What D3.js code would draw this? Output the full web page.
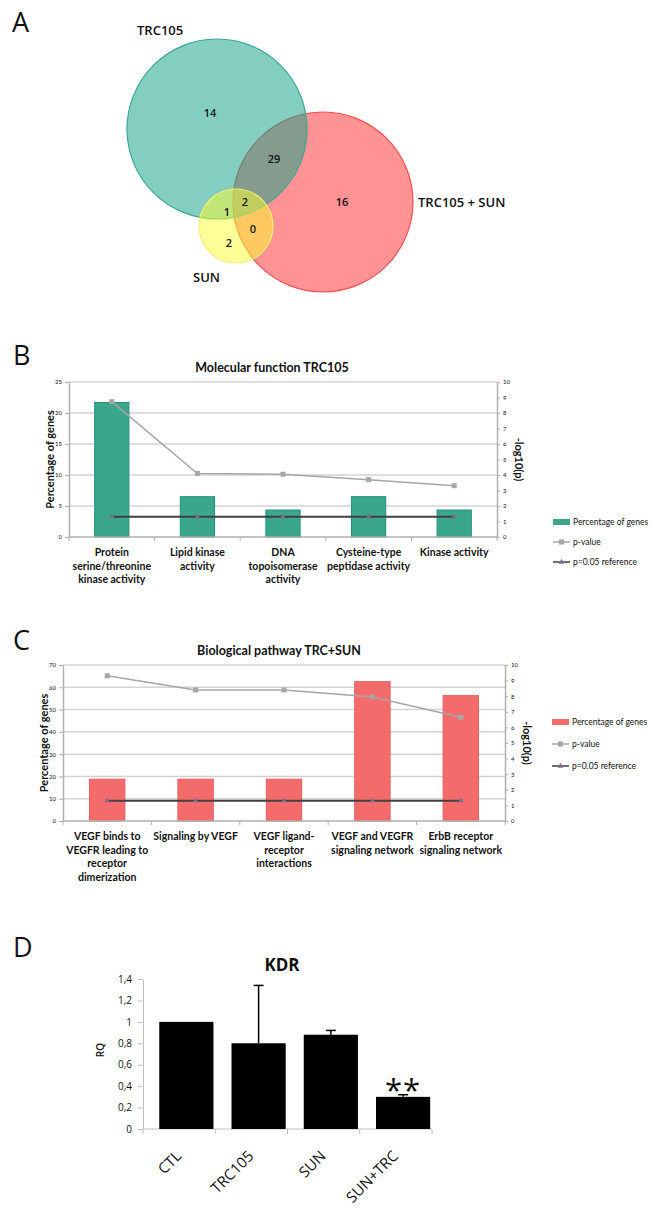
<!DOCTYPE html>
<html lang="en">
<head>
<meta charset="UTF-8">
<title>TRC105 / SUN gene sets and KDR</title>
<script src="https://d3js.org/d3.v7.min.js"></script>
<style>
    body { margin: 0; background: #fff; }
    svg { display: block; }
    .letter { font-family: "Open Sans", sans-serif; font-size: 27px; fill: #111; }
    .venn-label { font-family: "Open Sans", sans-serif; font-size: 13px; font-weight: 600; fill: #111; }
    .venn-num { font-family: "Open Sans", sans-serif; font-size: 11px; font-weight: 600; fill: #111; }
    .go text { font-family: Lato, sans-serif; fill: #111; }
    .go .tick text { font-size: 6px; }
    .go .title { font-size: 12.5px; font-weight: bold; }
    .go .ylab { font-size: 11px; font-weight: bold; }
    .go .cat { font-size: 10.5px; font-weight: bold; }
    .go .legend { font-size: 8.5px; }
    .kdr text { font-family: "Open Sans", sans-serif; fill: #111; }
</style>
</head>
<body>
<svg width="650" height="1219"></svg>
<script>
// A: Venn diagram counts
const vennSets = ["TRC105", "TRC105 + SUN", "SUN"];
const vennCounts = [14, 29, 2, 1, 2, 0, 16]; // TRC only, TRC&TRC+SUN, all, TRC&SUN, SUN only, SUN&TRC+SUN, TRC+SUN only

// B: molecular function TRC105
const mfCategories = [
    ["Protein", "serine/threonine", "kinase activity"],
    ["Lipid kinase", "activity"],
    ["DNA", "topoisomerase", "activity"],
    ["Cysteine-type", "peptidase activity"],
    ["Kinase activity"]
];
const mfPercent = [21.7, 6.5, 4.35, 6.5, 4.35];
const mfLogP = [8.73, 4.1, 4.05, 3.7, 3.31];

// C: biological pathway TRC+SUN
const bpCategories = [
    ["VEGF binds to", "VEGFR leading to", "receptor", "dimerization"],
    ["Signaling by VEGF"],
    ["VEGF ligand-", "receptor", "interactions"],
    ["VEGF and VEGFR", "signaling network"],
    ["ErbB receptor", "signaling network"]
];
const bpPercent = [18.75, 18.75, 18.75, 62.5, 56.25];
const bpLogP = [9.31, 8.4, 8.4, 7.95, 6.65];

const refLogP = 1.3; // -log10(0.05)
const legendNames = ["Percentage of genes", "p-value", "p=0.05 reference"];

// D: KDR expression
const kdrGroups = ["CTL", "TRC105", "SUN", "SUN+TRC"];
const kdrRQ = [1, 0.8, 0.88, 0.3];
const kdrErr = [0, 0.54, 0.04, 0.02];
const kdrTicks = [0, 0.2, 0.4, 0.6, 0.8, 1, 1.2, 1.4];

const svg = d3.select("svg");

// panel letters
svg.selectAll(".letter")
    .data([["A", 12, 32], ["B", 13, 365], ["C", 13, 650], ["D", 13, 957]])
    .join("text")
    .attr("class", "letter")
    .attr("x", d => d[1]).attr("y", d => d[2])
    .text(d => d[0]);

// ---------- A: Venn ----------
const venn = svg.append("g");
const circles = [
    { cx: 323, cy: 202, r: 90, fill: "#ff5a5a", op: 0.66, stroke: "#f05050" },
    { cx: 217, cy: 129, r: 90, fill: "#1aa58a", op: 0.54, stroke: "#3aa796" },
    { cx: 236, cy: 226, r: 37, fill: "#ffff30", op: 0.5, stroke: "#f4f070" }
];
venn.selectAll("circle").data(circles).join("circle")
    .attr("cx", d => d.cx).attr("cy", d => d.cy).attr("r", d => d.r)
    .attr("fill", d => d.fill).attr("fill-opacity", d => d.op)
    .attr("stroke", d => d.stroke).attr("stroke-width", 1.2);

const numPos = [[210, 113], [274, 159], [245, 202], [227, 212], [229, 243], [253, 229], [342, 202]];
venn.selectAll(".venn-num").data(vennCounts).join("text")
    .attr("class", "venn-num")
    .attr("x", (d, i) => numPos[i][0]).attr("y", (d, i) => numPos[i][1])
    .attr("text-anchor", "middle").attr("dy", "0.35em")
    .text(d => d);

const setPos = [[137, 35], [418, 207], [193, 282]];
venn.selectAll(".venn-label").data(vennSets).join("text")
    .attr("class", "venn-label")
    .attr("x", (d, i) => setPos[i][0]).attr("y", (d, i) => setPos[i][1])
    .text(d => d);

// ---------- B / C: combo charts ----------
function goChart(cfg) {
    const g = svg.append("g").attr("class", "go");
    const n = cfg.labels.length;
    const x = d3.scaleBand().domain(d3.range(n)).range([cfg.x0, cfg.x1])
        .paddingInner(0.6).paddingOuter(0.3);
    const yL = d3.scaleLinear().domain([0, cfg.leftMax]).range([cfg.yBottom, cfg.yTop]);
    const yR = d3.scaleLinear().domain([0, 10]).range([cfg.yBottom, cfg.yTop]);
    const leftTicks = d3.range(0, cfg.leftMax + 0.001, cfg.leftStep);
    const cx = i => x(i) + x.bandwidth() / 2;

    // gridlines
    g.append("g").selectAll("line").data(leftTicks.slice(1)).join("line")
        .attr("x1", cfg.x0).attr("x2", cfg.x1)
        .attr("y1", d => yL(d)).attr("y2", d => yL(d))
        .attr("stroke", "#d3d3d3").attr("stroke-width", 1.5);

    // bars
    g.append("g").selectAll("rect").data(cfg.percent).join("rect")
        .attr("x", (d, i) => x(i)).attr("width", x.bandwidth())
        .attr("y", d => yL(d)).attr("height", d => cfg.yBottom - yL(d))
        .attr("fill", cfg.color).attr("stroke", cfg.stroke).attr("stroke-width", 1);

    // axes
    const axL = g.append("g").attr("transform", `translate(${cfg.x0},0)`)
        .call(d3.axisLeft(yL).tickValues(leftTicks).tickSize(4).tickSizeOuter(0).tickPadding(3));
    const axR = g.append("g").attr("transform", `translate(${cfg.x1},0)`)
        .call(d3.axisRight(yR).ticks(10).tickSize(3).tickSizeOuter(0).tickPadding(3));
    [axL, axR].forEach(a => {
        a.select(".domain").attr("stroke", "#b0b0b0").attr("stroke-width", 1.5);
        a.selectAll(".tick line").attr("stroke", "#b0b0b0");
    });

    // category axis
    g.append("line").attr("x1", cfg.x0).attr("x2", cfg.x1)
        .attr("y1", cfg.yBottom).attr("y2", cfg.yBottom)
        .attr("stroke", "#b0b0b0").attr("stroke-width", 1.5);
    g.append("g").selectAll("line").data(d3.range(n + 1)).join("line")
        .attr("x1", i => cfg.x0 + x.step() * i).attr("x2", i => cfg.x0 + x.step() * i)
        .attr("y1", cfg.yBottom).attr("y2", cfg.yBottom + 4)
        .attr("stroke", "#b0b0b0");
    const cats = g.append("g").selectAll("text").data(cfg.labels).join("text")
        .attr("class", "cat").attr("text-anchor", "middle");
    cats.each(function(lines, i) {
        d3.select(this).selectAll("tspan").data(lines).join("tspan")
            .attr("x", cx(i)).attr("y", (l, j) => cfg.yBottom + 19 + j * 13.5)
            .text(l => l);
    });

    // p-value line
    const line = d3.line().x((d, i) => cx(i));
    g.append("path").datum(cfg.logP)
        .attr("d", line.y(d => yR(d)))
        .attr("fill", "none").attr("stroke", "#a6a6a6").attr("stroke-width", 1.5);
    g.append("g").selectAll("rect").data(cfg.logP).join("rect")
        .attr("x", (d, i) => cx(i) - 2.5).attr("y", d => yR(d) - 2.5)
        .attr("width", 5).attr("height", 5).attr("fill", "#a6a6a6");

    // reference line
    const ref = cfg.labels.map(() => refLogP);
    g.append("path").datum(ref)
        .attr("d", d3.line().x((d, i) => cx(i)).y(d => yR(d)))
        .attr("fill", "none").attr("stroke", "#404040").attr("stroke-width", 2);
    g.append("g").selectAll("path").data(ref).join("path")
        .attr("transform", (d, i) => `translate(${cx(i)},${yR(d)})`)
        .attr("d", d3.symbol(d3.symbolTriangle, 14))
        .attr("fill", "#7a6f8c");

    // title and axis labels
    g.append("text").attr("class", "title").attr("text-anchor", "middle")
        .attr("x", cfg.titleX).attr("y", cfg.titleY).text(cfg.title);
    g.append("text").attr("class", "ylab").attr("text-anchor", "middle")
        .attr("transform", `translate(${cfg.x0 - 15},${(cfg.yTop + cfg.yBottom) / 2}) rotate(-90)`)
        .text("Percentage of genes");
    g.append("text").attr("class", "ylab").attr("text-anchor", "middle")
        .attr("transform", `translate(${cfg.x1 + 18},${(cfg.yTop + cfg.yBottom) / 2}) rotate(90)`)
        .text("-log10(p)");

    // legend
    const lg = g.append("g").attr("transform", `translate(${cfg.legX},${cfg.legY})`);
    const rows = lg.selectAll("g").data(legendNames).join("g")
        .attr("transform", (d, i) => `translate(0,${i * cfg.legStep})`);
    rows.append("text").attr("class", "legend").attr("x", 20).attr("dy", "0.35em").text(d => d);
    rows.filter((d, i) => i === 0).append("rect")
        .attr("x", 0).attr("y", -3).attr("width", 17).attr("height", 6).attr("fill", cfg.color);
    rows.filter((d, i) => i > 0).append("line")
        .attr("x1", 0).attr("x2", 17)
        .attr("stroke", (d, i) => i === 0 ? "#a6a6a6" : "#404040").attr("stroke-width", 1.5);
    rows.filter((d, i) => i === 1).append("rect")
        .attr("x", 6).attr("y", -2.5).attr("width", 5).attr("height", 5).attr("fill", "#a6a6a6");
    rows.filter((d, i) => i === 2).append("path")
        .attr("transform", "translate(8.5,0)")
        .attr("d", d3.symbol(d3.symbolTriangle, 14)).attr("fill", "#7a6f8c");
}

goChart({
    labels: mfCategories, percent: mfPercent, logP: mfLogP,
    x0: 69, x1: 497, yTop: 382, yBottom: 537, leftMax: 25, leftStep: 5,
    color: "#3aa68c", stroke: "#1f9478",
    title: "Molecular function TRC105", titleX: 272, titleY: 372,
    legX: 553, legY: 522, legStep: 20
});

goChart({
    labels: bpCategories, percent: bpPercent, logP: bpLogP,
    x0: 63, x1: 505, yTop: 665, yBottom: 821, leftMax: 70, leftStep: 10,
    color: "#f46b6b", stroke: "#ee5a5a",
    title: "Biological pathway TRC+SUN", titleX: 279, titleY: 655,
    legX: 552, legY: 722, legStep: 22
});

// ---------- D: KDR ----------
const kd = svg.append("g").attr("class", "kdr");
const xD = d3.scaleBand().domain(kdrGroups).range([143, 432])
    .paddingInner(0.25).paddingOuter(0.125).align(0.9);
const yD = d3.scaleLinear().domain([0, 1.4]).range([1129, 979]);
const fmt = d => String(+d.toFixed(1)).replace(".", ",");
const mid = g => xD(g) + xD.bandwidth() / 2;

const ayD = kd.append("g").attr("transform", "translate(143,0)")
    .call(d3.axisLeft(yD).tickValues(kdrTicks).tickFormat(fmt).tickSize(5).tickSizeOuter(0).tickPadding(6));
ayD.select(".domain").attr("stroke", "#bfbfbf");
ayD.selectAll(".tick line").attr("stroke", "#bfbfbf");
ayD.selectAll(".tick text").attr("font-size", "10px");

kd.append("line").attr("x1", 143).attr("x2", 432).attr("y1", 1129).attr("y2", 1129)
    .attr("stroke", "#bfbfbf");
kd.append("g").selectAll("line").data(d3.range(kdrGroups.length + 1)).join("line")
    .attr("x1", i => 143 + xD.step() * i).attr("x2", i => 143 + xD.step() * i)
    .attr("y1", 1129).attr("y2", 1134).attr("stroke", "#bfbfbf");

kd.append("g").selectAll("rect").data(kdrRQ).join("rect")
    .attr("x", (d, i) => xD(kdrGroups[i])).attr("width", xD.bandwidth())
    .attr("y", d => yD(d)).attr("height", d => yD(0) - yD(d))
    .attr("fill", "#000");

// error bars (upper only)
kdrErr.forEach((e, i) => {
    if (!e) return;
    const c = mid(kdrGroups[i]);
    const top = yD(kdrRQ[i] + e);
    kd.append("line").attr("x1", c).attr("x2", c)
        .attr("y1", yD(kdrRQ[i])).attr("y2", top)
        .attr("stroke", "#000").attr("stroke-width", 1.5);
    kd.append("line").attr("x1", c - 5).attr("x2", c + 5)
        .attr("y1", top).attr("y2", top)
        .attr("stroke", "#000").attr("stroke-width", 1.5);
});

kd.append("text").attr("x", mid("SUN+TRC")).attr("y", yD(0.32) + 6)
    .attr("text-anchor", "middle").attr("font-size", "31px").attr("letter-spacing", "1px")
    .text("**");

kd.append("g").selectAll("text").data(kdrGroups).join("text")
    .attr("text-anchor", "end").attr("font-size", "15px")
    .attr("transform", d => `translate(${mid(d) - 4},1157) rotate(-45)`)
    .text(d => d);

kd.append("text").attr("text-anchor", "middle").attr("font-size", "17px").attr("font-weight", "bold")
    .attr("x", 282).attr("y", 971).text("KDR");
kd.append("text").attr("text-anchor", "middle").attr("font-size", "10px").attr("font-weight", 600)
    .attr("transform", "translate(104,1050) rotate(-90)").text("RQ");
</script>
</body>
</html>
